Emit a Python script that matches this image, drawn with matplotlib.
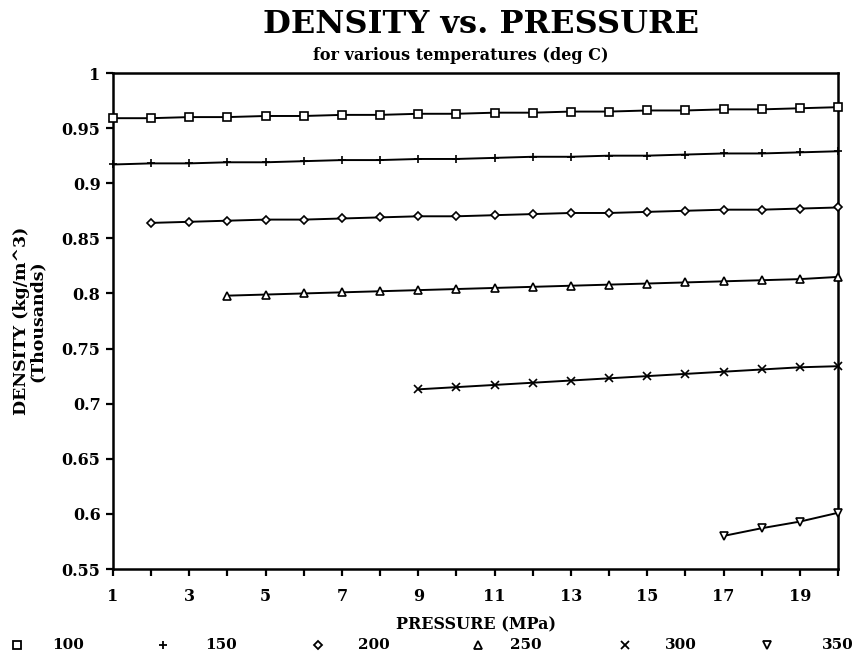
import matplotlib
matplotlib.use("Agg")
import matplotlib.pyplot as plt
import numpy as np

plt.rcParams['font.family'] = ['DejaVu Serif', 'Liberation Serif']
plt.rcParams['font.weight'] = 'bold'

# density (thousands of kg/m^3) against pressure (MPa), one curve per temperature
temps = ["100", "150", "200", "250", "300", "350"]
markers = ["s", "+", "D", "^", "x", "v"]

p_100 = list(range(1, 21))
d_100 = [0.959, 0.959, 0.960, 0.960, 0.961, 0.961, 0.962, 0.962, 0.963, 0.963,
         0.964, 0.964, 0.965, 0.965, 0.966, 0.966, 0.967, 0.967, 0.968, 0.969]

p_150 = list(range(1, 21))
d_150 = [0.917, 0.918, 0.918, 0.919, 0.919, 0.920, 0.921, 0.921, 0.922, 0.922,
         0.923, 0.924, 0.924, 0.925, 0.925, 0.926, 0.927, 0.927, 0.928, 0.929]

p_200 = list(range(2, 21))
d_200 = [0.864, 0.865, 0.866, 0.867, 0.867, 0.868, 0.869, 0.870, 0.870, 0.871,
         0.872, 0.873, 0.873, 0.874, 0.875, 0.876, 0.876, 0.877, 0.878]

p_250 = list(range(4, 21))
d_250 = [0.798, 0.799, 0.800, 0.801, 0.802, 0.803, 0.804, 0.805, 0.806, 0.807,
         0.808, 0.809, 0.810, 0.811, 0.812, 0.813, 0.815]

p_300 = list(range(9, 21))
d_300 = [0.713, 0.715, 0.717, 0.719, 0.721, 0.723, 0.725, 0.727, 0.729, 0.731,
         0.733, 0.734]

p_350 = [17, 18, 19, 20]
d_350 = [0.580, 0.587, 0.593, 0.601]

series = [(p_100, d_100), (p_150, d_150), (p_200, d_200),
          (p_250, d_250), (p_300, d_300), (p_350, d_350)]

W, H = 855, 660
fig = plt.figure(figsize=(W / 100, H / 100), dpi=100)
ax = fig.add_axes([113 / W, 1 - 569 / H, 725 / W, 496 / H])

for (p, d), m in zip(series, markers):
    ax.plot(p, d, color="black", lw=1.4, marker=m,
            markersize=6 if m != "D" else 4.5,
            markerfacecolor="white", markeredgecolor="black",
            markeredgewidth=1.2, clip_on=False, zorder=3)

ax.set_xlim(1, 20)
ax.set_ylim(0.55, 1.0)
ax.set_xticks(np.arange(1, 21))
ax.set_xticklabels([str(v) if v % 2 == 1 else "" for v in range(1, 21)])
ax.set_yticks(np.arange(0.55, 1.001, 0.05))
ax.set_yticklabels(["0.55", "0.6", "0.65", "0.7", "0.75", "0.8",
                    "0.85", "0.9", "0.95", "1"])
ax.tick_params(axis="both", direction="out", length=5, width=1.6,
               labelsize=11.5, pad=4)
ax.tick_params(axis="x", pad=9)
for s in ax.spines.values():
    s.set_linewidth(1.8)

ax.set_xlabel("PRESSURE (MPa)", fontsize=11.5, fontweight="bold", labelpad=8)
ax.set_ylabel("DENSITY (kg/m^3)\n(Thousands)", fontsize=12.5, fontweight="bold",
              linespacing=0.95, labelpad=11)

fig.text(481 / W, 1 - 33 / H, "DENSITY vs. PRESSURE", ha="center",
         va="baseline", fontsize=23, fontweight="bold")
fig.text(461 / W, 1 - 60 / H, "for various temperatures (deg C)", ha="center",
         va="baseline", fontsize=11.5, fontweight="bold")

# legend row along the bottom edge
key_marker_x = [17, 163, 318, 478, 625, 767]
key_label_x = [52, 205, 358, 510, 665, 822]
key_y = 1 - 645 / H
for m, t, mx, lx in zip(markers, temps, key_marker_x, key_label_x):
    ax.plot([mx / W], [key_y], transform=fig.transFigure, clip_on=False,
            ls="none", marker=m, markersize=5.5 if m != "D" else 4.5,
            markerfacecolor="white", markeredgecolor="black",
            markeredgewidth=1.3)
    fig.text(lx / W, key_y, t, ha="left", va="center", fontsize=11,
             fontweight="bold")

fig.savefig("out.png", dpi=100)
